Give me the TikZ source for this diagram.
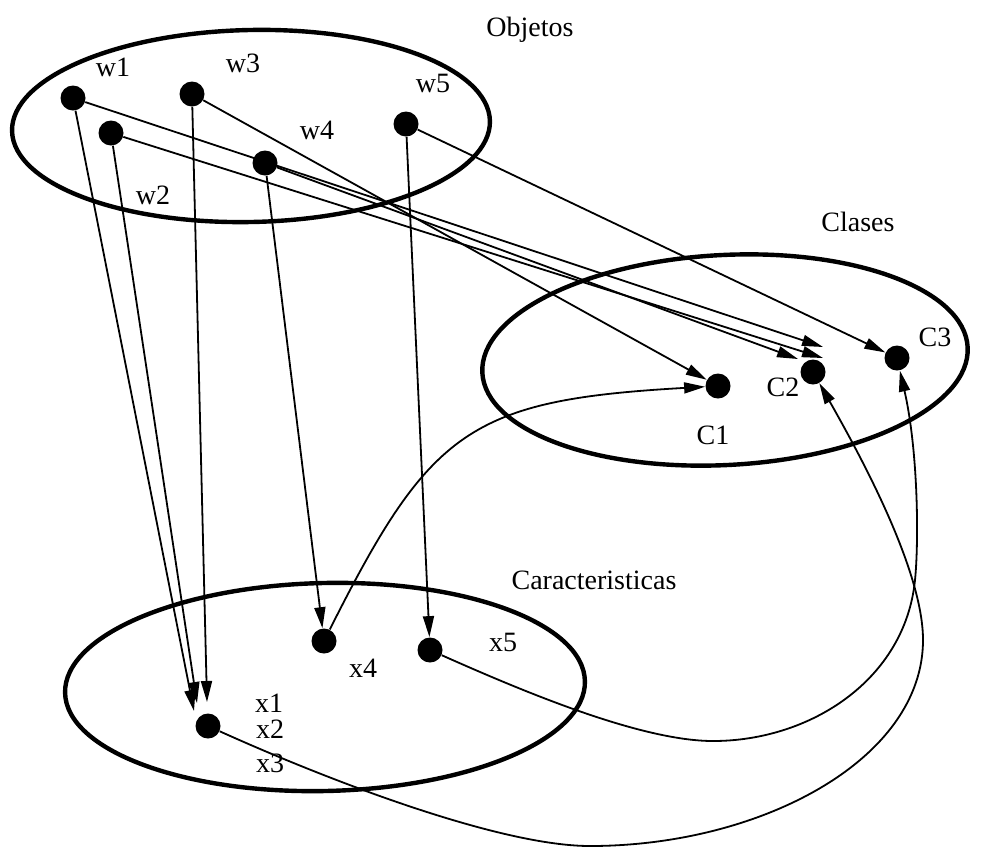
\documentclass[tikz,border=0pt]{standalone}
\usepackage{fontspec}
\setmainfont{Liberation Serif}
\usetikzlibrary{arrows.meta}
\begin{document}
\begin{tikzpicture}[x=0.5pt,y=-0.5pt,
  dot/.style={circle,fill=black,inner sep=0pt,minimum size=12.5pt},
  lbl/.style={font=\fontsize{14}{16}\selectfont,inner sep=0pt},
  conn/.style={line width=0.9pt,-{Triangle[length=10.5pt,width=5.5pt]}},
  setline/.style={line width=2.2pt}]
\useasboundingbox (0,0) rectangle (984,847);
% sets
\coordinate (oc) at (251,126);
\coordinate (cc) at (725,360);
\coordinate (kc) at (325,687);
\draw[setline, rotate around={1.2:(oc)}] (oc) ellipse [x radius=119.5pt, y radius=48pt];
\draw[setline, rotate around={3:(cc)}] (cc) ellipse [x radius=121.5pt, y radius=52.5pt];
\draw[setline, rotate around={1.3:(kc)}] (kc) ellipse [x radius=130pt, y radius=52pt];
% set labels
\node[lbl] (lobj) at (530,30) {Objetos};
\node[lbl] (lcla) at (858,222) {Clases};
\node[lbl] (lcar) at (594,580) {Caracteristicas};
% objects
\node[dot] (w1) at (73,98) {};
\node[dot] (w2) at (111,133) {};
\node[dot] (w3) at (192,94) {};
\node[dot] (w4) at (265,163) {};
\node[dot] (w5) at (406,124) {};
\node[lbl] (lw1) at (113,67) {w1};
\node[lbl] (lw2) at (153,195) {w2};
\node[lbl] (lw3) at (243,63) {w3};
\node[lbl] (lw4) at (317,130) {w4};
\node[lbl] (lw5) at (433,83) {w5};
% classes
\node[dot] (C1) at (718,386) {};
\node[dot] (C2) at (813,372) {};
\node[dot] (C3) at (897,358) {};
\node[lbl] (lC1) at (713,435) {C1};
\node[lbl] (lC2) at (783,387) {C2};
\node[lbl] (lC3) at (935,337) {C3};
% features
\node[dot] (xd) at (208,726) {};
\node[dot] (x4) at (324,641) {};
\node[dot] (x5) at (430,650) {};
\node[lbl] (lx1) at (269,703) {x1};
\node[lbl] (lx2) at (270,729) {x2};
\node[lbl] (lx3) at (270,763) {x3};
\node[lbl] (lx4) at (363,668) {x4};
\node[lbl] (lx5) at (503,642) {x5};
% arrow tip points
\coordinate (t1) at (194,711);
\coordinate (t2) at (197,703);
\coordinate (t3) at (207,702);
\coordinate (c2a) at (823,347);
\coordinate (c2b) at (823,358);
\coordinate (c2c) at (798,359);
% object -> feature
\draw[conn] (w1) -- (t1);
\draw[conn] (w2) -- (t2);
\draw[conn] (w3) -- (t3);
\draw[conn] (w4) -- (x4);
\draw[conn] (w5) -- (x5);
% object -> class
\draw[conn] (w1) -- (c2a);
\draw[conn] (w2) -- (c2b);
\draw[conn] (w4) -- (c2c);
\draw[conn] (w3) -- (C1);
\draw[conn] (w5) -- (C3);
% feature -> class
\draw[conn] (x4) .. controls (430,430) and (470,400) .. (C1);
\draw[conn] (x5) .. controls (520,690) and (640,741) .. (713,741)
  .. controls (810,741) and (905,680) .. (915,580)
  .. controls (919,540) and (918,450) .. (C3);
\draw[conn] (xd) .. controls (330,781) and (500,846) .. (590,846)
  .. controls (760,846) and (923,760) .. (923,640)
  .. controls (923,570) and (860,455) .. (C2);
\end{tikzpicture}
\end{document}
